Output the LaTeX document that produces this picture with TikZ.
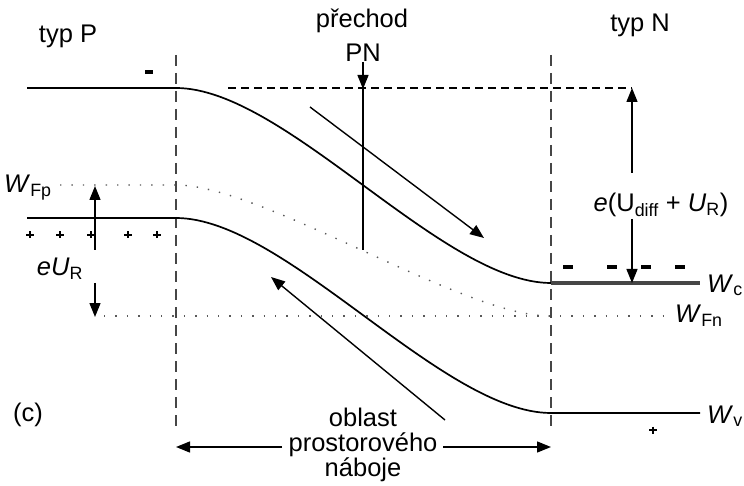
\documentclass[tikz,border=0pt]{standalone}
\usepackage{fontspec}
\setmainfont{Liberation Sans}
\usetikzlibrary{arrows.meta}
\begin{document}
\begin{tikzpicture}[x=1pt,y=-1pt,
  lbl/.style={font=\fontsize{25.5}{25}\selectfont, inner sep=0pt, anchor=base},
  band/.style={line width=1.7pt},
  bandc/.style={line width=3.2pt, gray!55!black},
  vdash/.style={line width=1.5pt, dash pattern=on 11pt off 7pt, gray!55!black},
  hdash/.style={line width=1.4pt, dash pattern=on 8pt off 5pt},
  dots/.style={line width=1.4pt, dash pattern=on 1.4pt off 10pt, gray!70!black},
  arr/.style={line width=1.4pt, -{Triangle[length=14pt,width=11pt]}},
  thin/.style={line width=1.4pt},
  minus/.style={fill=black},
  plus/.style={line width=1.5pt}
]
\useasboundingbox (0,0) rectangle (744,486);

% labels
\node[lbl] (typP) at (68,43) {typ P};
\node[lbl] (prech) at (362,28) {přechod};
\node[lbl] (PN) at (363,62) {PN};
\node[lbl] (typN) at (640,32) {typ N};
\node[lbl] (c) at (28,421) {(c)};
\node[lbl, anchor=base west] (WFp) at (4,193) {\textit{W}\textsubscript{Fp}};
\node[lbl, anchor=base west] (Wc) at (707,292) {\textit{W}\textsubscript{c}};
\node[lbl, anchor=base west] (WFn) at (675,323) {\textit{W}\textsubscript{Fn}};
\node[lbl, anchor=base west] (Wv) at (707,423) {\textit{W}\textsubscript{v}};
\node[lbl] (eUR) at (60,276) {\textit{eU}\textsubscript{R}};
\node[lbl] (eU) at (661,212) {\textit{e}(U\textsubscript{diff} + \textit{U}\textsubscript{R})};
\node[font=\fontsize{25.5}{25}\selectfont, inner sep=0pt, align=center] (obl) at (363,445) {oblast\\prostorového\\náboje};

% coordinates
\coordinate (Lt) at (176,55);
\coordinate (Lb) at (176,433);
\coordinate (Rt) at (551,55);
\coordinate (Rb) at (551,433);
\coordinate (c0) at (27,88);
\coordinate (c1) at (176,88);
\coordinate (c2) at (551,283);
\coordinate (c3) at (700,283);
\coordinate (v0) at (27,218);
\coordinate (v1) at (176,218);
\coordinate (v2) at (551,413);
\coordinate (v3) at (700,413);
\coordinate (f0) at (60,185);
\coordinate (f1) at (176,185);
\coordinate (f2) at (549,316);
\coordinate (n0) at (104,316);
\coordinate (n1) at (668,316);
\coordinate (h0) at (228,88);
\coordinate (h1) at (632,88);

% vertical dashed lines
\draw[vdash] (Lt) -- (Lb);
\draw[vdash] (Rt) -- (Rb);

% bands
\draw[band] (c0) -- (c1) .. controls (285,88) and (442,283) .. (c2);
\draw[bandc] (c2) -- (c3);
\draw[band] (v0) -- (v1) .. controls (285,218) and (442,413) .. (v2) -- (v3);

% Fermi levels
\draw[dots] (f0) -- (f1) .. controls (262,185) and (463,316) .. (f2);
\draw[dots] (n0) -- (n1);

% dashed top line
\draw[hdash] (h0) -- (h1);

% e(Udiff+UR) arrows
\draw[arr] (632,173) -- (h1);
\draw[arr] (632,219) -- (632,283);

% eUR arrows
\draw[arr] (95,250) -- (95,186);
\draw[arr] (95,283) -- (95,317);

% middle vertical line
\coordinate (mtop) at (363,62);
\coordinate (mbot) at (363,250);
\draw[thin] (mtop) -- (mbot);
\draw[arr] (363,68) -- (363,89);

% diagonal arrows
\draw[arr] (310,107) -- (484,238);
\draw[arr] (445,420) -- (271,277);

% space charge region arrows
\draw[arr] (282,447) -- (176,447);
\draw[arr] (443,447) -- (551,447);

% charges
\fill[minus] (145,70.5) rectangle (153,74.5);
\foreach \x in {568,612,646,680} \fill[minus] (\x-5,265) rectangle (\x+5,269);
\foreach \x in {30,60,91,128,157} \draw[plus] (\x-4,235) -- (\x+4,235) (\x,231.5) -- (\x,238.5);
\draw[plus] (649,430) -- (657,430) (653,426.5) -- (653,433.5);
\end{tikzpicture}
\end{document}
